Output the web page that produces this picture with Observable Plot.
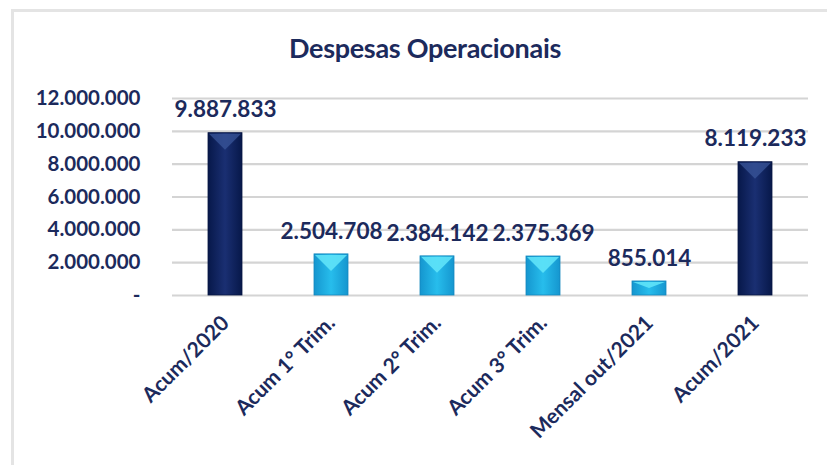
<!DOCTYPE html>
<html>
<head>
<meta charset="utf-8">
<script src="https://cdn.jsdelivr.net/npm/d3@7"></script>
<script src="https://cdn.jsdelivr.net/npm/@observablehq/plot@0.6"></script>
<style>
  html, body { margin: 0; padding: 0; background: #fff; }
  #wrap { position: relative; width: 827px; height: 465px; overflow: hidden; font-family: Lato, "Open Sans", sans-serif; }
  #frame { position: absolute; left: 11px; top: 9px; right: -10px; bottom: -10px;
           border-left: 3px solid #e4e4e4; border-top: 3px solid #e4e4e4; pointer-events: none; }
  #title { position: relative; height: 75px; text-align: center; padding-left: 23px; box-sizing: border-box;
           font-family: Lato, sans-serif; font-weight: bold; font-size: 27px; line-height: 96px;
           color: #1c2a5c; letter-spacing: -0.3px; }
  #chart svg { display: block; }
</style>
</head>
<body>
<div id="wrap">
  <div id="frame"></div>
  <div id="title">Despesas Operacionais</div>
  <div id="chart"></div>
</div>
<script>
const categories = ["Acum/2020", "Acum 1° Trim.", "Acum 2° Trim.", "Acum 3° Trim.", "Mensal out/2021", "Acum/2021"];
const values = [9887833, 2504708, 2384142, 2375369, 855014, 8119233];
const barStyles = ["navy", "cyan", "cyan", "cyan", "cyan", "navy"];
const yTicks = [0, 2000000, 4000000, 6000000, 8000000, 10000000, 12000000];

const data = categories.map((c, i) => ({cat: c, value: values[i], style: barStyles[i]}));
const loc = d3.formatLocale({decimal: ",", thousands: ".", grouping: [3], currency: ["", ""]});
const fmt = loc.format(",d");
const tickFmt = v => v === 0 ? "-" : fmt(v);

const gradFill = {navy: "url(#gNavy)", cyan: "url(#gCyan)"};
const triFill = {navy: "#3a5599", cyan: "#5fe3f8"};
const textColor = "#1c2a5c";

function defsMark() {
  const ns = "http://www.w3.org/2000/svg";
  const defs = document.createElementNS(ns, "defs");
  defs.innerHTML = `
    <linearGradient id="gNavy" x1="0" x2="1" y1="0" y2="0">
      <stop offset="0" stop-color="#07184a"/>
      <stop offset="0.5" stop-color="#1a2f72"/>
      <stop offset="1" stop-color="#07184a"/>
    </linearGradient>
    <linearGradient id="gCyan" x1="0" x2="1" y1="0" y2="0">
      <stop offset="0" stop-color="#1596cf"/>
      <stop offset="0.5" stop-color="#27bdec"/>
      <stop offset="1" stop-color="#1596cf"/>
    </linearGradient>`;
  return defs;
}

function bevelMark(index, scales) {
  const ns = "http://www.w3.org/2000/svg";
  const g = document.createElementNS(ns, "g");
  const bw = scales.x.bandwidth ? scales.x.bandwidth() : 34;
  data.forEach(d => {
    const x0 = scales.x(d.cat), x1 = x0 + bw, xc = x0 + bw / 2;
    const yt = scales.y(d.value), yb = scales.y(0);
    const depth = Math.min(bw / 2, (yb - yt) / 2);
    const p = document.createElementNS(ns, "path");
    p.setAttribute("d", `M${x0 + 1},${yt + 1}L${x1 - 1},${yt + 1}L${xc},${yt + depth}Z`);
    p.setAttribute("fill", triFill[d.style]);
    p.setAttribute("fill-opacity", d.style === "navy" ? 0.75 : 0.9);
    g.appendChild(p);
  });
  return g;
}

const chart = Plot.plot({
  width: 827,
  height: 390,
  marginTop: 23,
  marginBottom: 170,
  marginLeft: 172,
  marginRight: 19,
  style: {fontFamily: "Lato, sans-serif", background: "transparent", overflow: "visible"},
  x: {domain: categories, paddingInner: 0.68, paddingOuter: 0.34, label: null},
  y: {domain: [0, 12000000], ticks: yTicks, label: null, tickFormat: tickFmt},
  color: {type: "identity"},
  marks: [
    defsMark,
    Plot.gridY(yTicks, {stroke: "#d4d4d4", strokeOpacity: 1, strokeWidth: 2.2}),
    Plot.barY(data, {x: "cat", y: "value", fill: d => gradFill[d.style], stroke: d => d.style === "navy" ? "#061441" : "#1488bd", strokeWidth: 0.8}),
    bevelMark,
    Plot.text(data, {x: "cat", y: "value", text: d => fmt(d.value), dy: -23, fill: textColor, fontSize: 22.5, fontWeight: "bold"}),
    Plot.axisY({ticks: yTicks, tickFormat: tickFmt, tickSize: 0, tickPadding: 32, fill: textColor, fontSize: 20.5, fontWeight: "bold", label: null}),
    Plot.axisX({tickSize: 0, tickPadding: 24, tickRotate: -45, fill: textColor, fontSize: 21, fontWeight: "bold", label: null})
  ]
});
document.getElementById("chart").appendChild(chart);
</script>
</body>
</html>
